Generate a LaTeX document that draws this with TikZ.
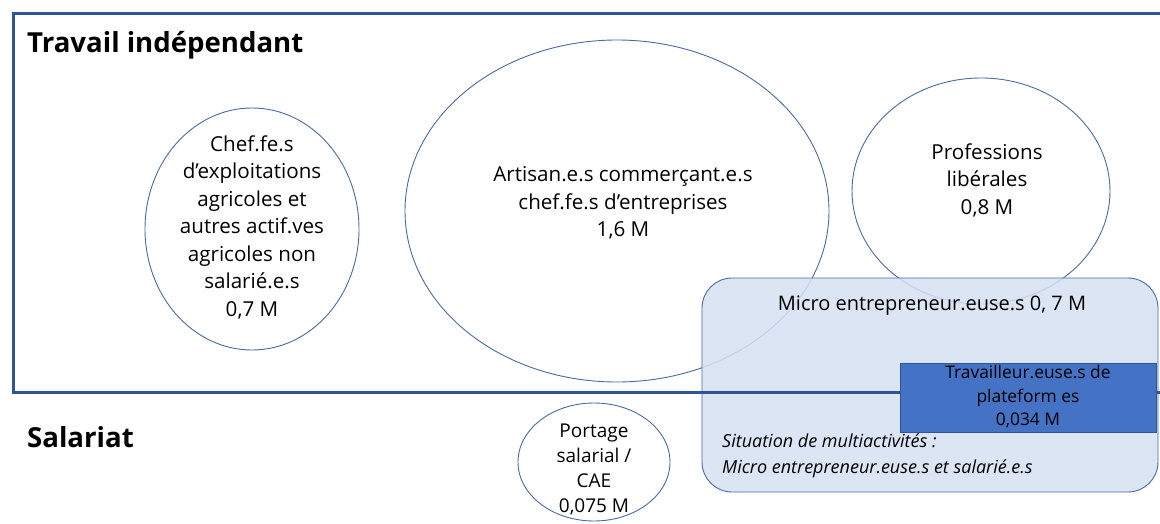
\documentclass[tikz,border=0pt]{standalone}
\usepackage{fontspec}
\setmainfont{Open Sans}
\usetikzlibrary{shapes.geometric}
\definecolor{frame}{HTML}{2F5597}
\definecolor{ell}{HTML}{4A6AA5}
\definecolor{lightfill}{HTML}{D6E0F2}
\definecolor{darkfill}{HTML}{4472C4}
\tikzset{
  oval/.style={ellipse, draw=ell, line width=0.9pt, inner sep=0pt},
  txt/.style={align=center, font=\fontsize{20.6}{27.5}\selectfont, inner sep=0pt},
  head/.style={anchor=west, font=\fontsize{27.6}{30}\selectfont\bfseries, inner sep=0pt},
}
\begin{document}
\begin{tikzpicture}[x=1pt,y=-1pt]
\useasboundingbox (0,0) rectangle (1160,524);
% ellipses
\node[oval, minimum width=214, minimum height=242] (chef) at (252,229) {};
\node[oval, minimum width=424, minimum height=342] (art) at (617,211) {};
\node[oval, minimum width=258, minimum height=226] (prof) at (981,191) {};
\node[oval, minimum width=152, minimum height=118] (port) at (594,462) {};
% micro rounded box
\node[draw=ell, line width=0.9pt, fill=lightfill, fill opacity=0.85, rounded corners=30pt,
  minimum width=456, minimum height=214, inner sep=0pt] (micro) at (930,385) {};
% frame
\draw[frame, line width=3pt] (1160,14) -- (13,14) -- (13,392) -- (1160,392);
% dark box
\node[draw=frame, line width=0.9pt, fill=darkfill, minimum width=256, minimum height=69, inner sep=0pt] (plat) at (1028,397.5) {};
% texts
\node[head] (t1) at (27,45) {Travail indépendant};
\node[head] (t2) at (27,437) {Salariat};
\node[txt] (chefT) at (252,227) {Chef.fe.s\\d’exploitations\\agricoles et\\autres actif.ves\\agricoles non\\salarié.e.s\\0,7 M};
\node[txt] (artT) at (623,203) {Artisan.e.s commerçant.e.s\\chef.fe.s d’entreprises\\1,6 M};
\node[txt] (profT) at (987,180) {Professions\\libérales\\0,8 M};
\node[align=center, font=\fontsize{20}{27.5}\selectfont, inner sep=0pt] (microT) at (932,306) {Micro entrepreneur.euse.s 0, 7 M};
\node[align=center, font=\fontsize{17.4}{23.5}\selectfont, inner sep=0pt] (platT) at (1028,397) {Travailleur.euse.s de\\plateform es\\0,034 M};
\node[align=left, anchor=west, font=\fontsize{18}{26}\selectfont\itshape, inner sep=0pt] (multiT) at (722,456) {Situation de multiactivités :\\Micro entrepreneur.euse.s et salarié.e.s};
\node[align=center, font=\fontsize{19}{25}\selectfont, inner sep=0pt] (portT) at (594,469) {Portage\\salarial /\\CAE\\0,075 M};
\end{tikzpicture}
\end{document}
